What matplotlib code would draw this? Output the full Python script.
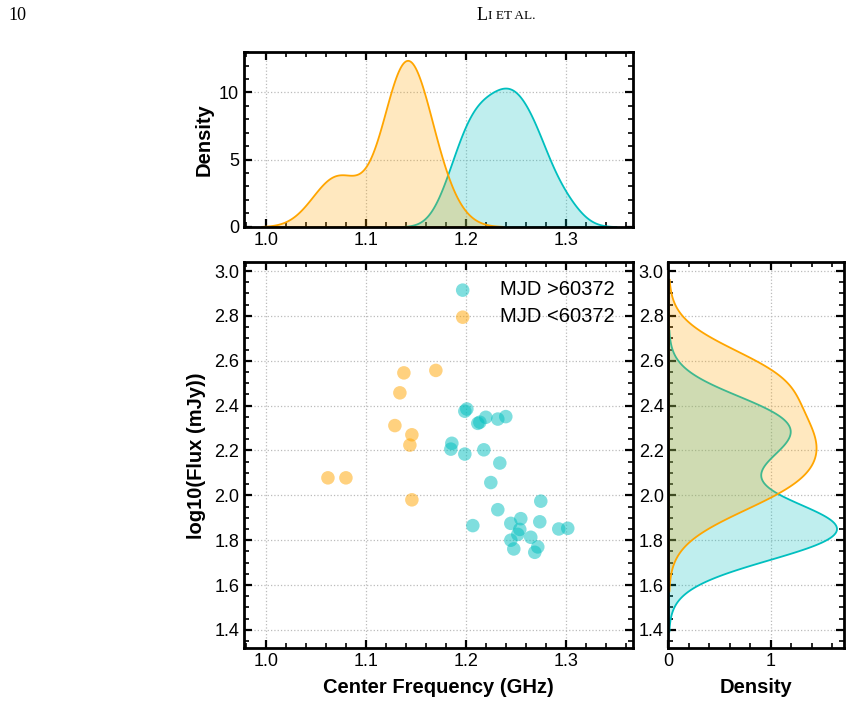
import matplotlib
matplotlib.use("Agg")
import matplotlib.pyplot as plt
import seaborn as sns
from matplotlib.ticker import MultipleLocator

plt.rcParams['font.family'] = ['Liberation Sans', 'DejaVu Sans']

# center frequency (GHz) and log10 flux (mJy)
freq_late = [1.201, 1.199, 1.220, 1.214, 1.212, 1.232, 1.240, 1.186, 1.185, 1.199,
             1.218, 1.234, 1.225, 1.275, 1.232, 1.207, 1.245, 1.255, 1.274, 1.254,
             1.252, 1.245, 1.265, 1.248, 1.272, 1.269, 1.293, 1.302]
flux_late = [2.385, 2.375, 2.348, 2.326, 2.321, 2.340, 2.351, 2.232, 2.206, 2.184,
             2.203, 2.144, 2.057, 1.974, 1.936, 1.865, 1.875, 1.896, 1.882, 1.848,
             1.826, 1.800, 1.813, 1.761, 1.770, 1.746, 1.850, 1.853]
freq_early = [1.138, 1.170, 1.134, 1.129, 1.146, 1.144, 1.062, 1.080, 1.146]
flux_early = [2.546, 2.557, 2.457, 2.311, 2.270, 2.224, 2.078, 2.078, 1.980]

label_late = 'MJD >60372'
label_early = 'MJD <60372'
c_late = 'c'
c_early = 'orange'

W, H = 853, 704
fig = plt.figure(figsize=(W / 100, H / 100), dpi=100)

def box(l, t, r, b):
    return [l / W, 1 - b / H, (r - l) / W, (b - t) / H]

ax = fig.add_axes(box(244, 262.3, 632.7, 648.3))
ax_top = fig.add_axes(box(244, 51.7, 632.7, 226.7))
ax_right = fig.add_axes(box(668.5, 262.3, 844.3, 648.3))

ax.scatter(freq_late, flux_late, s=95, color=c_late, alpha=0.5, edgecolors='none', label=label_late)
ax.scatter(freq_early, flux_early, s=95, color=c_early, alpha=0.5, edgecolors='none', label=label_early)

sns.kdeplot(x=freq_late, ax=ax_top, color=c_late, fill=True, alpha=0.25, linewidth=1.3)
sns.kdeplot(x=freq_early, ax=ax_top, color=c_early, fill=True, alpha=0.25, linewidth=1.3)
sns.kdeplot(y=flux_late, ax=ax_right, color=c_late, fill=True, alpha=0.25, linewidth=1.3)
sns.kdeplot(y=flux_early, ax=ax_right, color=c_early, fill=True, alpha=0.25, linewidth=1.3)

xlim = (0.978, 1.367)
ylim = (1.318, 3.039)
ax.set_xlim(xlim)
ax.set_ylim(ylim)
ax_top.set_xlim(xlim)
ax_top.set_ylim(0, 13.04)
ax_right.set_ylim(ylim)
ax_right.set_xlim(0, 1.72)

for a in (ax, ax_top):
    a.xaxis.set_major_locator(MultipleLocator(0.1))
    a.xaxis.set_minor_locator(MultipleLocator(0.02))
for a in (ax, ax_right):
    a.yaxis.set_major_locator(MultipleLocator(0.2))
    a.yaxis.set_minor_locator(MultipleLocator(0.05))
ax_top.yaxis.set_major_locator(MultipleLocator(5))
ax_top.yaxis.set_minor_locator(MultipleLocator(1))
ax_right.xaxis.set_major_locator(MultipleLocator(1))
ax_right.xaxis.set_minor_locator(MultipleLocator(0.2))

for a in (ax, ax_top, ax_right):
    a.tick_params(which='both', direction='in', top=True, right=True, labelsize=13)
    a.tick_params(which='major', length=6, width=1.6)
    a.tick_params(which='minor', length=3.5, width=1.2)
    for sp in a.spines.values():
        sp.set_linewidth(2)
    a.grid(True, which='major', linestyle=':', color='#bbbbbb', linewidth=0.9)
    a.set_axisbelow(True)

lab = dict(fontsize=14.5, fontweight='bold')
ax.set_xlabel('Center Frequency (GHz)', labelpad=6, **lab)
ax.set_ylabel('log10(Flux (mJy))', labelpad=6, **lab)
ax_top.set_xlabel('')
ax_top.set_ylabel('Density', **lab)
ax_right.set_ylabel('')
ax_right.set_xlabel('Density', labelpad=6, **lab)

ax.legend(loc='upper right', bbox_to_anchor=(1.0, 1.0), frameon=False, fontsize=14.5,
          handlelength=1.0, handletextpad=1.35, labelspacing=0.4)

# page header
fig.text(8 / W, 1 - 15 / H, '10', family='Liberation Serif', fontsize=13, va='center')
fig.text(477 / W, 1 - 15 / H, 'L', family='Liberation Serif', fontsize=13, va='center')
fig.text(488 / W, 1 - 15.6 / H, 'I ET AL.', family='Liberation Serif', fontsize=9.5, va='center')

fig.savefig('out.png', dpi=100)
